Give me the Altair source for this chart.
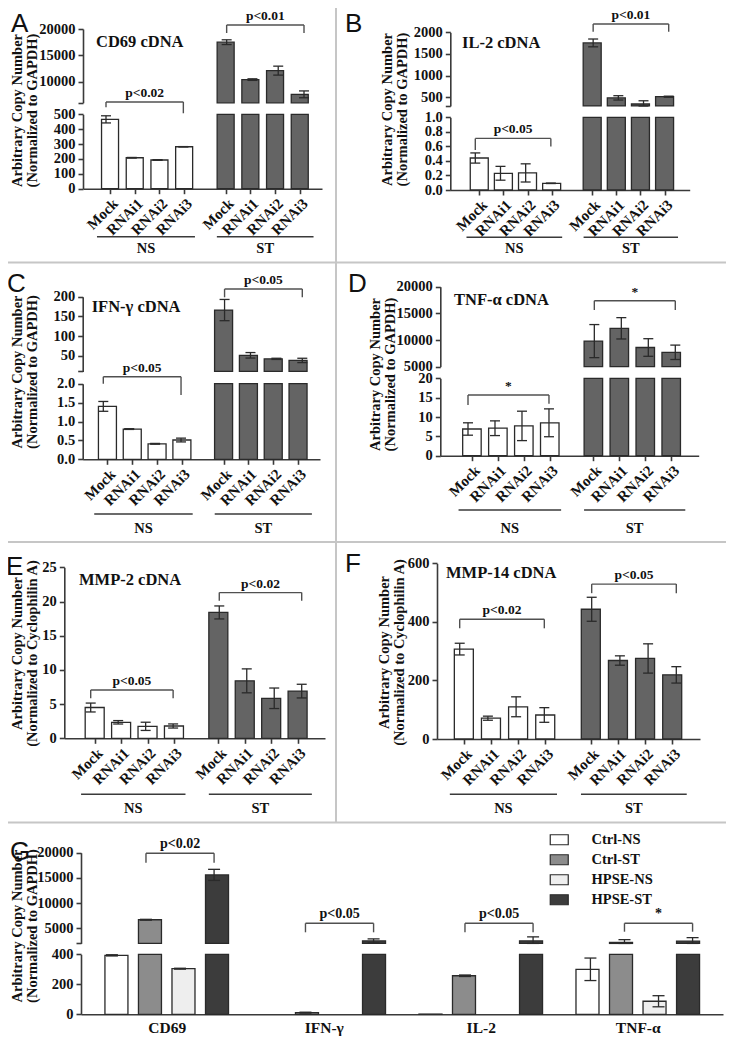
import altair as alt
import pandas as pd

# ---------------- values ----------------
treatments = ["Mock", "RNAi1", "RNAi2", "RNAi3"]
conditions = ["NS", "ST"]

cd69_ns = [466, 208, 193, 282]
cd69_ns_err = [24, 2, 2, 1]
cd69_st = [17500, 10400, 12100, 7600]
cd69_st_err = [450, 150, 850, 650]

il2_ns = [0.44, 0.23, 0.235, 0.092]
il2_ns_err = [0.07, 0.095, 0.125, 0.003]
il2_st = [1755, 487, 345, 514]
il2_st_err = [90, 50, 75, 12]

ifng_ns = [1.40, 0.80, 0.41, 0.51]
ifng_ns_err = [0.13, 0.01, 0.01, 0.05]
ifng_st = [166, 51, 42, 38]
ifng_st_err = [27, 7, 1.5, 5.5]

tnfa_ns = [6.9, 7.1, 7.7, 8.5]
tnfa_ns_err = [1.6, 1.9, 3.8, 3.6]
tnfa_st = [9800, 12200, 8600, 7700]
tnfa_st_err = [3100, 2000, 1650, 1350]

mmp2_ns = [4.5, 2.34, 1.75, 1.8]
mmp2_ns_err = [0.65, 0.25, 0.6, 0.3]
mmp2_st = [18.4, 8.4, 5.85, 6.9]
mmp2_st_err = [0.95, 1.75, 1.5, 1.0]

mmp14_ns = [307, 71, 110, 82]
mmp14_ns_err = [20, 7, 34, 25]
mmp14_st = [443, 268, 275, 219]
mmp14_st_err = [41, 16, 50, 28]

g_genes = ["CD69", "IFN-γ", "IL-2", "TNF-α"]
g_series = ["Ctrl-NS", "Ctrl-ST", "HPSE-NS", "HPSE-ST"]
g_ctrl_ns = [393, 0, 1.5, 300]
g_ctrl_ns_err = [4, 0, 0, 75]
g_ctrl_st = [6700, 11, 257, 2200]
g_ctrl_st_err = [80, 3, 5, 550]
g_hpse_ns = [304, 0, 0, 87]
g_hpse_ns_err = [3, 0, 0, 37]
g_hpse_st = [15600, 2500, 2500, 2450]
g_hpse_st_err = [1100, 400, 800, 700]

# ---------------- layout / style ----------------
W, H = 718, 1030
M = 8
SERIF = "Liberation Serif"
SANS = "Liberation Sans"
EDGE = "#2a2a2a"
AX = "#3a3a3a"
TXT = "#111111"
BR = "#505050"
ST_FILL = "#646464"
ST_OFF = 4.68
POS = [0, 1, 2, 3] + [ST_OFF + i for i in range(4)]
G_STEP = 0.2135
TITLE_SHIFT = -14


def cx(v):
    return v - M


def cy(v):
    return v - M


def lin(a, b, v):
    (va, pa), (vb, pb) = a, b
    return pa + (v - va) * (pb - pa) / (vb - va)


def seg(dom, a, b, ticks, fmt="d", hide_lo=False):
    return dict(dom=dom, a=a, b=b, ticks=ticks, fmt=fmt, hide_lo=hide_lo)


PANELS = [
    dict(key="A", ns=cd69_ns, ns_err=cd69_ns_err, st=cd69_st, st_err=cd69_st_err,
         L=83, R=322, c0=106, c7=304, bw=17, axis_y=188.7, norm="GAPDH",
         segs=[seg([0, 500], (0, 188.7), (500, 114.3), [0, 100, 200, 300, 400, 500]),
               seg([6000, 20000], (10000, 81.7), (20000, 29), [10000, 15000, 20000], hide_lo=True)],
         tx=-44.5, ty=110,
         brackets=[(0, "ns", 583, 547, 507, "p<0.02"), (1, "st", 20760, 19240, 19240, "p<0.01")],
         gline=236.7, gtext=248.5, letter=("A", 11, 32), title=("CD69 cDNA", 96, 42)),
    dict(key="B", ns=il2_ns, ns_err=il2_ns_err, st=il2_st, st_err=il2_st_err,
         L=450.3, R=689.7, c0=475.3, c7=668.7, bw=18, axis_y=190, norm="GAPDH",
         segs=[seg([0, 1], (0, 190), (1, 117.3), [0, 0.2, 0.4, 0.6, 0.8, 1.0], ".1f"),
               seg([300, 2000], (500, 97.3), (2000, 32.3), [500, 1000, 1500, 2000], hide_lo=True)],
         tx=-42, ty=109,
         brackets=[(0, "ns", 0.71, 0.55, 0.60, "p<0.05"), (1, "st", 2192, 2014, 2014, "p<0.01")],
         gline=237.3, gtext=248.5, letter=("B", 345, 32), title=("IL-2 cDNA", 462, 43)),
    dict(key="C", ns=ifng_ns, ns_err=ifng_ns_err, st=ifng_st, st_err=ifng_st_err,
         L=82.7, R=320, c0=103.3, c7=302.3, bw=18, axis_y=459.3, norm="GAPDH",
         segs=[seg([0, 2], (0, 459.3), (2, 383.7), [0, 0.5, 1.0, 1.5, 2.0], ".1f"),
               seg([10, 200], (50, 355.7), (200, 296.7), [50, 100, 150, 200], hide_lo=True)],
         tx=-44, ty=371.5,
         brackets=[(0, "ns", 2.185, 2.0, 1.7, "p<0.05"), (1, "st", 219.5, 198.5, 198.5, "p<0.05")],
         gline=514, gtext=528.5, letter=("C", 7, 292), title=("IFN-γ cDNA", 91.7, 306.7)),
    dict(key="D", ns=tnfa_ns, ns_err=tnfa_ns_err, st=tnfa_st, st_err=tnfa_st_err,
         L=440.3, R=698.7, c0=468, c7=675.3, bw=18.5, axis_y=455.7, norm="GAPDH",
         segs=[seg([0, 20], (0, 455.7), (20, 378.3), [0, 5, 10, 15, 20]),
               seg([5000, 20000], (5000, 366.7), (20000, 286.7), [5000, 10000, 15000, 20000])],
         tx=-44, ty=374,
         brackets=[(0, "ns", 15.7, 13.1, 13.4, "*"), (1, "st", 17375, 15630, 15630, "*")],
         gline=510, gtext=528.5, letter=("D", 348, 292), title=("TNF-α cDNA", 454, 300)),
    dict(key="E", ns=mmp2_ns, ns_err=mmp2_ns_err, st=mmp2_st, st_err=mmp2_st_err,
         L=64.3, R=325, c0=90.7, c7=301.7, bw=19, axis_y=738.3, norm="Cyclophilin A",
         segs=[seg([0, 25], (0, 738.3), (25, 567.3), [0, 5, 10, 15, 20, 25])],
         tx=-26, ty=653,
         brackets=[(0, "ns", 7.06, 5.85, 5.85, "p<0.05"), (0, "st", 21.3, 20.1, 20.1, "p<0.02")],
         gline=794.3, gtext=809, letter=("E", 6, 575), title=("MMP-2 cDNA", 79, 580)),
    dict(key="F", ns=mmp14_ns, ns_err=mmp14_ns_err, st=mmp14_st, st_err=mmp14_st_err,
         L=437, R=700, c0=459.7, c7=676.3, bw=19, axis_y=739, norm="Cyclophilin A",
         segs=[seg([0, 600], (0, 739), (600, 563.3), [0, 200, 400, 600])],
         tx=-31.5, ty=652,
         brackets=[(0, "ns", 409, 378, 378, "p<0.02"), (0, "st", 529, 498, 498, "p<0.05")],
         gline=794.3, gtext=809, letter=("F", 345, 572), title=("MMP-14 cDNA", 446, 573)),
]

G = dict(L=81, R=723, c_first=163, unit=159.5, axis_y=1014.3, bw=23,
         segs=[seg([0, 400], (0, 1014.3), (400, 954.3), [0, 200, 400]),
               seg([2000, 20000], (5000, 928.3), (20000, 852.7), [5000, 10000, 15000, 20000], hide_lo=True)],
         tx=-42.5, ty=925.5,
         brackets=[(1, 0, 19880, 18015, 18015, "p<0.02"), (1, 1, 5992, 4206, 4206, "p<0.05"),
                   (1, 2, 5992, 4206, 4206, "p<0.05"), (1, 3, 5992, 4325, 4325, "*")],
         letter=("G", 10, 860), legend=(544, 824.5))

SEPARATORS = [  # page px: x, x2, y, y2
    (336, 336, 0, 823),
    (0, 734, 262.5, 262.5),
    (0, 734, 542, 542),
    (0, 734, 822.5, 822.5),
]


def axis_common():
    return dict(grid=False, domainColor=AX, domainWidth=1.6, tickColor=AX, tickWidth=1.6,
                labelFont=SERIF, labelFontWeight="bold", labelColor=TXT)


def y_axis(xpage, s, title=None, tx=0, ty=0):
    kw = axis_common()
    vals = list(s["ticks"])
    kw.update(orient="left", offset=-cx(xpage), tickSize=5, labelPadding=3,
              labelFontSize=14.5, format=s["fmt"])
    if s["hide_lo"]:
        vals = [s["dom"][0]] + vals
        kw["labelExpr"] = f"datum.value <= {s['dom'][0]} ? '' : datum.label"
    kw["values"] = vals
    if title:
        kw.update(title=title, titleX=tx + TITLE_SHIFT, titleY=cy(ty), titleAngle=270,
                  titleAlign="center", titleBaseline="bottom", titleFont=SERIF,
                  titleFontWeight="bold", titleFontSize=14.5, titleColor=TXT, titleLineHeight=15)
    else:
        kw["title"] = None
    return alt.Axis(**kw)


TREAT_EXPR = "[" + ",".join(f"'{t}'" for t in treatments) + "]"
GENE_EXPR = "[" + ",".join(f"'{g}'" for g in g_genes) + "]"


def x_axis_rot(axis_y_page):
    kw = axis_common()
    kw.update(orient="bottom", offset=cy(axis_y_page) - H, values=POS,
              labelExpr=f"{TREAT_EXPR}[datum.value < 4 ? round(datum.value) : round(datum.value - {ST_OFF})]",
              labelAngle=315, labelAlign="right", labelBaseline="top", labelFontSize=15,
              tickSize=5, labelPadding=2, labelOverlap=False, labelFlush=False, title=None)
    return alt.Axis(**kw)


def x_axis_g():
    kw = axis_common()
    kw.update(orient="bottom", offset=cy(G["axis_y"]) - H, values=[0, 1, 2, 3],
              labelExpr=f"{GENE_EXPR}[round(datum.value)]", labelFontSize=15.5,
              ticks=False, labelPadding=6, labelOverlap=False, labelFlush=False, title=None)
    return alt.Axis(**kw)


def yscale(s, clamp):
    d0, d1 = s["dom"]
    r0 = cy(lin(s["a"], s["b"], d0))
    r1 = cy(lin(s["a"], s["b"], d1))
    return alt.Scale(domain=[d0, d1], range=[r0, r1], zero=False, nice=False, clamp=clamp)


def xscale_panel(p):
    unit = (p["c7"] - p["c0"]) / (ST_OFF + 3)
    lo = (p["L"] - p["c0"]) / unit
    hi = (p["R"] - p["c0"]) / unit
    return alt.Scale(domain=[lo, hi], range=[cx(p["L"]), cx(p["R"])], zero=False, nice=False)


def xscale_g():
    lo = (G["L"] - G["c_first"]) / G["unit"]
    hi = (G["R"] - G["c_first"]) / G["unit"]
    return alt.Scale(domain=[lo, hi], range=[cx(G["L"]), cx(G["R"])], zero=False, nice=False)


def bar_chart(d, xs, ys, bw, fill=None, fill_enc=None, xaxis=None, yaxis=None):
    mk = dict(size=bw, stroke=EDGE, strokeWidth=1.3)
    if fill is not None:
        mk["fill"] = fill
    enc = dict(x=alt.X("pos:Q", scale=xs, axis=xaxis),
               y=alt.Y("value:Q", scale=ys, axis=yaxis),
               y2=alt.Y2("base:Q"))
    if fill_enc is not None:
        enc["fill"] = fill_enc
    return alt.Chart(d).mark_bar(**mk).encode(**enc)


def err_layers(d, xs, ys, cap):
    d = d[d["err"] > 0]
    if len(d) == 0:
        return []
    rule = alt.Chart(d).mark_rule(color=EDGE, strokeWidth=1.3).encode(
        x=alt.X("pos:Q", scale=xs, axis=None),
        y=alt.Y("lo:Q", scale=ys, axis=None), y2=alt.Y2("hi:Q"))
    capdf = pd.concat([d[["pos"]].assign(yv=d["lo"].values), d[["pos"]].assign(yv=d["hi"].values)])
    tick = alt.Chart(capdf).mark_tick(orient="horizontal", size=cap, thickness=1.3,
                                      color=EDGE, opacity=1).encode(
        x=alt.X("pos:Q", scale=xs, axis=None),
        y=alt.Y("yv:Q", scale=ys, axis=None))
    return [rule, tick]


def bracket_layers(bd, xs, ys, fs):
    X = lambda f: alt.X(f, scale=xs, axis=None)
    Y = lambda f: alt.Y(f, scale=ys, axis=None)
    rk = dict(color=BR, strokeWidth=1.4)
    h = alt.Chart(bd).mark_rule(**rk).encode(x=X("x1:Q"), x2=alt.X2("x2:Q"), y=Y("y:Q"))
    l = alt.Chart(bd).mark_rule(**rk).encode(x=X("x1:Q"), y=Y("y:Q"), y2=alt.Y2("yl:Q"))
    r = alt.Chart(bd).mark_rule(**rk).encode(x=X("x2:Q"), y=Y("y:Q"), y2=alt.Y2("yr:Q"))
    t = alt.Chart(bd).mark_text(font=SERIF, fontWeight="bold", fontSize=fs, baseline="bottom",
                                dy=-2, color=TXT, fill=TXT).encode(
        x=X("xm:Q"), y=Y("y:Q"), text="label:N")
    return [h, l, r, t]


layers = []

# ---------- panels A-F ----------
for p in PANELS:
    rows = []
    for gi, (vals, errs) in enumerate([(p["ns"], p["ns_err"]), (p["st"], p["st_err"])]):
        for i, t in enumerate(treatments):
            rows.append(dict(pos=POS[gi * 4 + i], name=t, cond=conditions[gi],
                             value=vals[i], err=errs[i]))
    df = pd.DataFrame(rows)
    df["lo"] = df["value"] - df["err"]
    df["hi"] = df["value"] + df["err"]
    xs = xscale_panel(p)
    for si, s in enumerate(p["segs"]):
        d0, d1 = s["dom"]
        ys_c = yscale(s, True)
        ys_u = yscale(s, False)
        if si == 0:
            dseg = df.copy()
            derr = df[df["value"] <= d1]
        else:
            dseg = df[df["value"] > d0].copy()
            derr = dseg
        dseg["base"] = d0
        title = ["Arbitrary Copy Number", f"(Normalized to {p['norm']})"] if si == 0 else None
        yax = y_axis(p["L"], s, title, p["tx"], p["ty"])
        xax = x_axis_rot(p["axis_y"]) if si == 0 else None
        d_ns = dseg[dseg["cond"] == "NS"]
        d_st = dseg[dseg["cond"] == "ST"]
        if len(d_ns):
            layers.append(bar_chart(d_ns, xs, ys_c, p["bw"], fill="white"))
        layers.append(bar_chart(d_st, xs, ys_c, p["bw"], fill=ST_FILL, xaxis=xax, yaxis=yax))
        layers += err_layers(derr, xs, ys_c, 10)
        brs = [b for b in p["brackets"] if b[0] == si]
        if brs:
            bd = pd.DataFrame([dict(x1=0 if w == "ns" else ST_OFF, x2=3 if w == "ns" else ST_OFF + 3,
                                    y=y, yl=yl, yr=yr, label=lab) for (_, w, y, yl, yr, lab) in brs])
            bd["xm"] = (bd["x1"] + bd["x2"]) / 2
            layers += bracket_layers(bd, xs, ys_u, 13.5)
    # group underline + NS / ST labels
    gdf = pd.DataFrame(dict(x1=[-0.35, 4.3], x2=[3.45, 8.05], label=conditions))
    gdf["xm"] = (gdf["x1"] + gdf["x2"]) / 2
    layers.append(alt.Chart(gdf).mark_rule(color=AX, strokeWidth=1.4).encode(
        x=alt.X("x1:Q", scale=xs, axis=None), x2=alt.X2("x2:Q"), y=alt.value(cy(p["gline"]))))
    layers.append(alt.Chart(gdf).mark_text(font=SERIF, fontWeight="bold", fontSize=14.5,
                                           baseline="middle", color=TXT).encode(
        x=alt.X("xm:Q", scale=xs, axis=None), y=alt.value(cy(p["gtext"])), text="label:N"))

# ---------- panel G ----------
g_rows = []
g_vals = [g_ctrl_ns, g_ctrl_st, g_hpse_ns, g_hpse_st]
g_errs = [g_ctrl_ns_err, g_ctrl_st_err, g_hpse_ns_err, g_hpse_st_err]
for gi, gene in enumerate(g_genes):
    for sj, sname in enumerate(g_series):
        g_rows.append(dict(pos=gi + (sj - 1.5) * G_STEP, gene=gene, series=sname,
                           value=g_vals[sj][gi], err=g_errs[sj][gi]))
gdf_all = pd.DataFrame(g_rows)
gdf_all = gdf_all[gdf_all["value"] > 0]
gdf_all["lo"] = gdf_all["value"] - gdf_all["err"]
gdf_all["hi"] = gdf_all["value"] + gdf_all["err"]
xs_g = xscale_g()
g_fill_scale = alt.Scale(domain=g_series, range=["#ffffff", "#8c8c8c", "#eeeeee", "#3c3c3c"])
g_legend = alt.Legend(orient="none", legendX=G["legend"][0], legendY=G["legend"][1], title=None,
                      symbolType="M-1.8,-1H1.8V1H-1.8Z", symbolSize=100, symbolStrokeColor=EDGE,
                      symbolStrokeWidth=1.2, labelFont=SERIF, labelFontWeight="bold",
                      labelFontSize=14.5, labelColor=TXT, labelOffset=25, rowPadding=4, padding=0)
for si, s in enumerate(G["segs"]):
    d0, d1 = s["dom"]
    ys_c = yscale(s, True)
    ys_u = yscale(s, False)
    if si == 0:
        dseg = gdf_all.copy()
        derr = gdf_all[gdf_all["value"] <= d1]
    else:
        dseg = gdf_all[gdf_all["value"] > d0].copy()
        derr = dseg
    dseg["base"] = d0
    title = ["Arbitrary Copy Number", "(Normalized to GAPDH)"] if si == 0 else None
    yax = y_axis(G["L"], s, title, G["tx"], G["ty"])
    xax = x_axis_g() if si == 0 else None
    fill_enc = alt.Fill("series:N", scale=g_fill_scale, legend=g_legend if si == 0 else None)
    layers.append(bar_chart(dseg, xs_g, ys_c, G["bw"], fill_enc=fill_enc, xaxis=xax, yaxis=yax))
    layers += err_layers(derr, xs_g, ys_c, 12)
    brs = [b for b in G["brackets"] if b[0] == si]
    if brs:
        bd = pd.DataFrame([dict(x1=gi - 0.5 * G_STEP, x2=gi + 1.5 * G_STEP, y=y, yl=yl, yr=yr, label=lab)
                           for (_, gi, y, yl, yr, lab) in brs])
        bd["xm"] = (bd["x1"] + bd["x2"]) / 2
        layers += bracket_layers(bd, xs_g, ys_u, 14)

# ---------- separators, panel letters and panel titles ----------
sep = pd.DataFrame([dict(x=cx(a), x2=cx(b), y=cy(c), y2=cy(d)) for a, b, c, d in SEPARATORS])
layers.append(alt.Chart(sep).mark_rule(color="#c6c6c6", strokeWidth=2).encode(
    x=alt.X("x:Q", scale=None, axis=None), x2="x2:Q",
    y=alt.Y("y:Q", scale=None, axis=None), y2="y2:Q"))

letters = [p["letter"] for p in PANELS] + [G["letter"]]
let_df = pd.DataFrame([dict(t=t, x=cx(x), y=cy(y)) for t, x, y in letters])
layers.append(alt.Chart(let_df).mark_text(font=SANS, fontSize=26, align="left",
                                          baseline="alphabetic", color=TXT).encode(
    x=alt.X("x:Q", scale=None, axis=None), y=alt.Y("y:Q", scale=None, axis=None), text="t:N"))

tit_df = pd.DataFrame([dict(t=p["title"][0], x=cx(p["title"][1]), y=cy(p["title"][2])) for p in PANELS])
layers.append(alt.Chart(tit_df).mark_text(font=SERIF, fontWeight="bold", fontSize=16.5, align="left",
                                          baseline="middle", color=TXT).encode(
    x=alt.X("x:Q", scale=None, axis=None), y=alt.Y("y:Q", scale=None, axis=None), text="t:N"))

chart = alt.layer(*layers).resolve_scale(x="independent", y="independent").properties(
    width=W, height=H, padding=0, autosize=alt.AutoSizeParams(type="none")
).configure_view(stroke=None)

chart.save("out.html", embed_options={"renderer": "svg", "actions": False})
